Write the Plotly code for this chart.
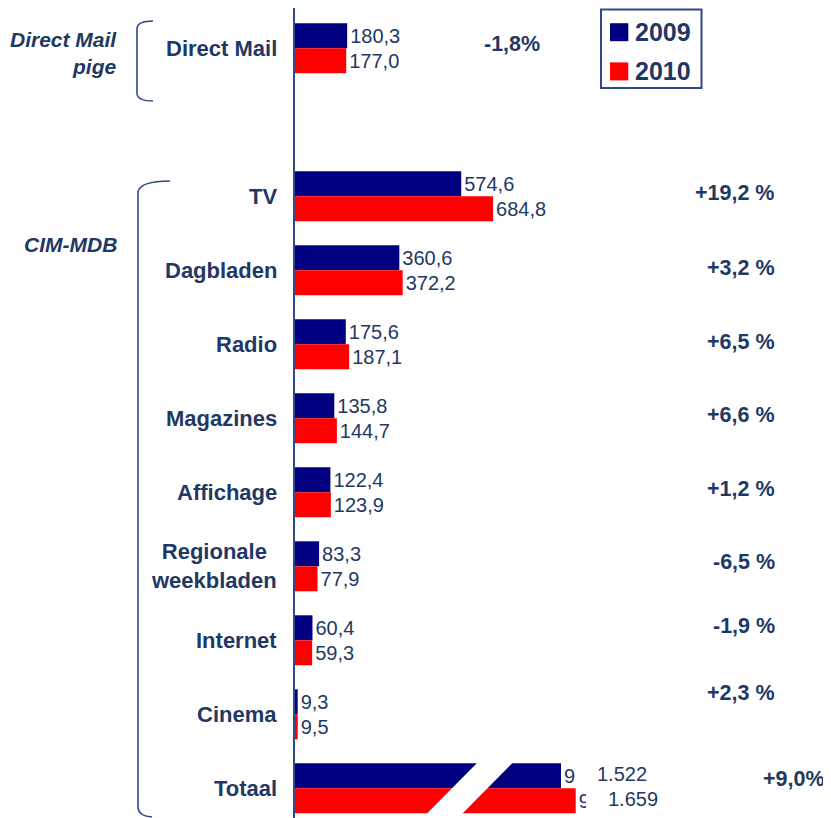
import math
import plotly.graph_objects as go

# ---------------- data ----------------
CATEGORIES = ["Direct Mail", "TV", "Dagbladen", "Radio", "Magazines", "Affichage",
              "Regionale<br>weekbladen", "Internet", "Cinema"]
VALUES_2009 = [180.3, 574.6, 360.6, 175.6, 135.8, 122.4, 83.3, 60.4, 9.3]
VALUES_2010 = [177.0, 684.8, 372.2, 187.1, 144.7, 123.9, 77.9, 59.3, 9.5]
CHANGE_LABELS = ["-1,8%", "+19,2 %", "+3,2 %", "+6,5 %", "+6,6 %", "+1,2 %",
                 "-6,5 %", "-1,9 %", "+2,3 %"]
TOTAL_CATEGORY = "Totaal"
TOTAL_2009 = 1522
TOTAL_2010 = 1659
TOTAL_CHANGE = "+9,0%"
TOTAL_LEFTOVER = "9"
SERIES = ["2009", "2010"]
GROUP_LABELS = ["Direct Mail<br>pige", "CIM-MDB"]

# ---------------- style ----------------
OFF = 8                      # page body margin of the html page
W, H = 831 - OFF, 818 - OFF
ML, MR, MT, MB = 295 - OFF, 12, 0, 0
PW, PH = W - ML - MR, H - MT - MB
NAVY = "#000080"
RED = "#FF0000"
TXT = "#1F3864"
LINE = "#2F4A85"
FONT = "Liberation Sans, Arial, sans-serif"
PX_PER_UNIT = 0.2893
ROW_PX = 74.0
BAR_W = 25.0 / ROW_PX
XMAX = PW / PX_PER_UNIT
Y_TOP = -(48.3 - OFF - MT) / ROW_PX
Y_BOT = Y_TOP + PH / ROW_PX

def fmt(v):
    return f"{v:.1f}".replace(".", ",")

def fmt_total(v):
    return f"{v:,.0f}".replace(",", ".")

def px(x):
    # screen pixel (in the 831x818 window) -> paper x
    return (x - OFF - ML) / PW

def py(y):
    return 1 - (y - OFF - MT) / PH

# row positions: Direct Mail, an empty row, then the CIM-MDB media, then total
ypos = [0] + [i + 2 for i in range(len(CATEGORIES) - 1)]
ytot = ypos[-1] + 1

fig = go.Figure()
for name, vals, col, off in [(SERIES[0], VALUES_2009, NAVY, -BAR_W), (SERIES[1], VALUES_2010, RED, 0)]:
    fig.add_trace(go.Bar(
        x=vals, y=ypos, orientation="h", width=BAR_W, offset=off,
        marker=dict(color=col, line=dict(width=0)), name=name,
        text=[fmt(v) for v in vals], textposition="outside", cliponaxis=False,
        constraintext="none", textfont=dict(family=FONT, size=20, color=TXT),
        showlegend=False, hoverinfo="x+name"))

# totals on a second (log-compressed, hidden) axis because the bars are broken
LOG_PX_PER_DEC = 14.7 / math.log10(TOTAL_2010 / TOTAL_2009)
LOG_LO = math.log10(TOTAL_2009) - (561 - 295) / LOG_PX_PER_DEC
LOG_HI = LOG_LO + PW / LOG_PX_PER_DEC
for name, v, col, off in [(SERIES[0], TOTAL_2009, NAVY, -BAR_W), (SERIES[1], TOTAL_2010, RED, 0)]:
    fig.add_trace(go.Bar(
        x=[v], y=[ytot], orientation="h", width=BAR_W, offset=off, xaxis="x2",
        marker=dict(color=col, line=dict(width=0)), name=name,
        text=[TOTAL_LEFTOVER], textposition="outside", cliponaxis=False,
        constraintext="none", textfont=dict(family=FONT, size=20, color=TXT),
        showlegend=False, hoverinfo="name"))

shapes = []
ann = []

# category labels
for c, y in zip(CATEGORIES + [TOTAL_CATEGORY], ypos + [ytot]):
    ann.append(dict(text=f"<b>{c}</b>", x=0, xref="paper", y=y, yref="y",
                    xanchor="right", yanchor="middle", xshift=-16, align="center",
                    showarrow=False, font=dict(family=FONT, size=22, color=TXT)))

# change labels
PCT_XPX = [542] + [777] * (len(CATEGORIES) - 1)
PCT_YSHIFT = [4, 3, 2, 2.5, 3, 3, 4, 14, 21]
for lab, y, xr, ys in zip(CHANGE_LABELS, ypos, PCT_XPX, PCT_YSHIFT):
    ann.append(dict(text=f"<b>{lab}</b>", x=px(xr), xref="paper", y=y, yref="y",
                    xanchor="right", yanchor="middle", yshift=ys, showarrow=False,
                    font=dict(family=FONT, size=21.5, color=TXT)))
ann.append(dict(text=f"<b>{TOTAL_CHANGE}</b>", x=px(827), xref="paper", y=ytot, yref="y",
                xanchor="right", yanchor="middle", yshift=9, showarrow=False,
                font=dict(family=FONT, size=21.5, color=TXT)))

# total value labels
for v, shift, yoff in [(TOTAL_2009, 34, -BAR_W / 2), (TOTAL_2010, 30, BAR_W / 2)]:
    ann.append(dict(text=fmt_total(v), x=math.log10(v), xref="x2", y=ytot + yoff, yref="y",
                    xanchor="left", yanchor="middle", xshift=shift, yshift=2, showarrow=False,
                    font=dict(family=FONT, size=20, color=TXT)))

# partly hidden leftover digit of the 2010 total
shapes.append(dict(type="rect", xref="paper", yref="paper", x0=px(586), x1=px(604),
                   y0=py(813), y1=py(789), fillcolor="white", line=dict(width=0), layer="above"))

# axis break stripe
pts = [(479, 761), (514.5, 761), (461, 815), (425.5, 815)]
path = "M" + " L".join(f"{px(a):.5f},{py(b):.5f}" for a, b in pts) + " Z"
shapes.append(dict(type="path", path=path, xref="paper", yref="paper",
                   fillcolor="white", line=dict(width=0), layer="above"))

# group labels
ann.append(dict(text=f"<b><i>{GROUP_LABELS[0]}</i></b>", x=px(119), xref="paper", y=py(53), yref="paper",
                xanchor="right", yanchor="middle", align="right", showarrow=False,
                font=dict(family=FONT, size=21, color=TXT)))
ann.append(dict(text=f"<b><i>{GROUP_LABELS[1]}</i></b>", x=px(119), xref="paper", y=py(244), yref="paper",
                xanchor="right", yanchor="middle", align="right", showarrow=False,
                font=dict(family=FONT, size=21, color=TXT)))

# brackets
def ppath(cmds):
    out = []
    for c in cmds:
        op, coords = c[0], c[1:]
        out.append(op + " ".join(f"{px(a):.5f},{py(b):.5f}" for a, b in coords))
    return " ".join(out)

b1 = ppath([("M", (153, 21)), ("Q", (138, 21), (137, 28)), ("L", (137, 94)),
            ("Q", (138, 101), (153, 101))])
b2 = ppath([("M", (170, 181)), ("Q", (140, 181), (138, 192)), ("L", (138, 808)),
            ("Q", (139, 816), (152, 817))])
for p in (b1, b2):
    shapes.append(dict(type="path", path=p, xref="paper", yref="paper",
                       line=dict(color=LINE, width=1.6)))

# legend box
shapes.append(dict(type="rect", xref="paper", yref="paper", x0=px(601), x1=px(701.5),
                   y0=py(88), y1=py(9.5), line=dict(color=LINE, width=2), fillcolor="white"))
for (name, col, yc) in [(SERIES[0], NAVY, 32.2), (SERIES[1], RED, 71.4)]:
    shapes.append(dict(type="rect", xref="paper", yref="paper", x0=px(610), x1=px(628.3),
                       y0=py(yc + 9), y1=py(yc - 9), fillcolor=col, line=dict(width=0)))
    ann.append(dict(text=f"<b>{name}</b>", x=px(633), xref="paper", y=py(yc), yref="paper",
                    xanchor="left", yanchor="middle", showarrow=False,
                    font=dict(family=FONT, size=25, color=TXT)))

fig.update_layout(
    width=W, height=H, margin=dict(l=ML, r=MR, t=MT, b=MB, pad=0),
    paper_bgcolor="white", plot_bgcolor="white", barmode="overlay",
    xaxis=dict(range=[0, XMAX], visible=False, fixedrange=True),
    xaxis2=dict(type="log", range=[LOG_LO, LOG_HI], overlaying="x", visible=False),
    yaxis=dict(range=[Y_BOT, Y_TOP], showticklabels=False, showgrid=False, zeroline=False,
               showline=True, linecolor=LINE, linewidth=2, ticks=""),
    shapes=shapes, annotations=ann, font=dict(family=FONT, color=TXT),
)

fig.write_html("out.html")
